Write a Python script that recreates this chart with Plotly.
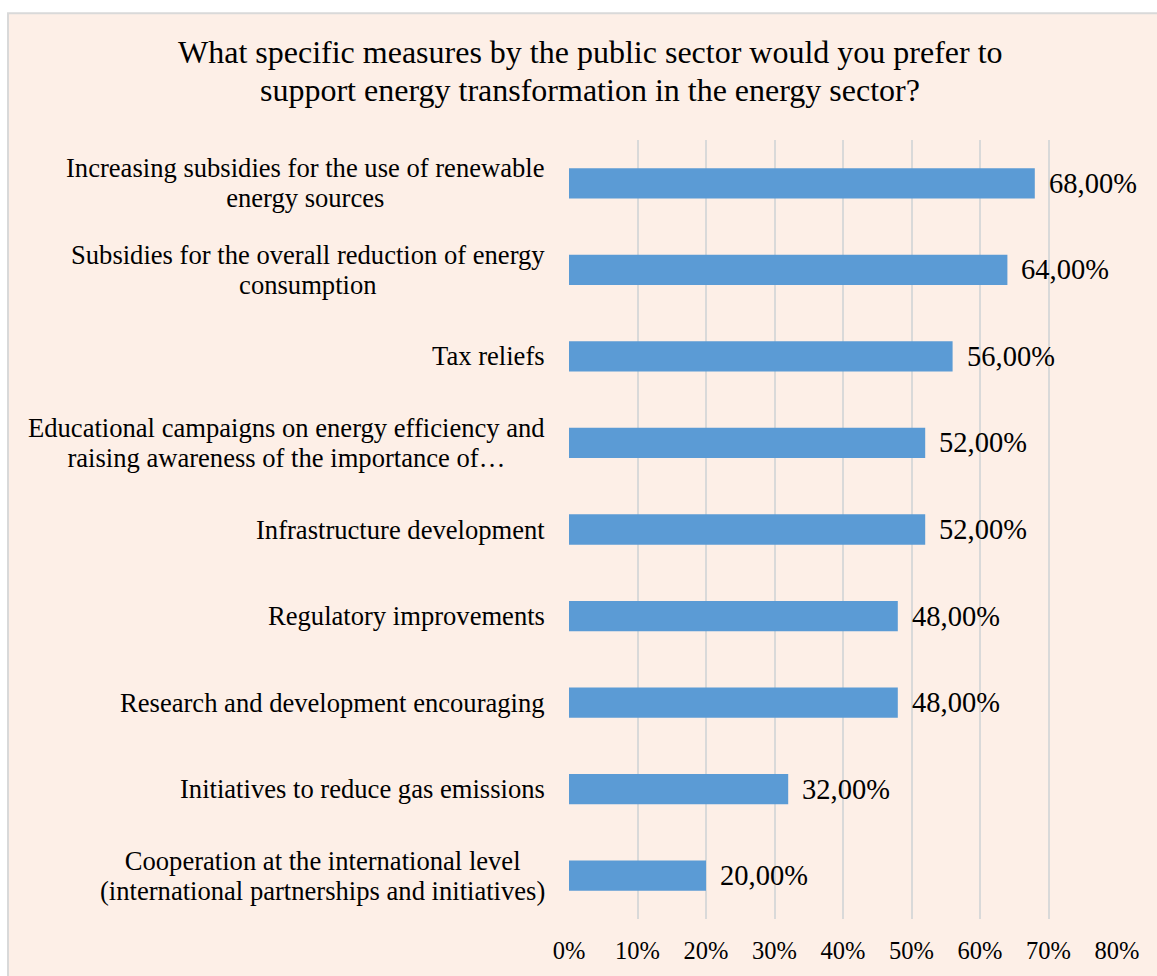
import plotly.graph_objects as go

categories = [
    "Increasing subsidies for the use of renewable<br>energy sources",
    "Subsidies for the overall reduction of energy<br>consumption",
    "Tax reliefs",
    "Educational campaigns on energy efficiency and<br>raising awareness of the importance of…",
    "Infrastructure development",
    "Regulatory improvements",
    "Research and development encouraging",
    "Initiatives to reduce gas emissions",
    "Cooperation at the international level<br>(international partnerships and initiatives)",
]
values = [0.68, 0.64, 0.56, 0.52, 0.52, 0.48, 0.48, 0.32, 0.20]
tick_vals = [0, 0.1, 0.2, 0.3, 0.4, 0.5, 0.6, 0.7, 0.8]
tick_text = ["0%", "10%", "20%", "30%", "40%", "50%", "60%", "70%", "80%"]
title_lines = [
    "What specific measures by the public sector would you prefer to",
    "support energy transformation in the energy sector?",
]

FONT = "Liberation Serif, Times New Roman, serif"
BG = "#FDEFE7"
BAR = "#5B9BD5"
GRID = "#D9D9D9"
BLACK = "#000000"

fig = go.Figure(go.Bar(
    x=values, y=categories, orientation="h",
    marker=dict(color=BAR, line=dict(width=0)),
    width=0.35,
    hoverinfo="skip",
))

# value labels to the right of each bar
for c, v in zip(categories, values):
    fig.add_annotation(
        x=v, y=c, xref="x", yref="y",
        text=f"{v*100:.2f}%".replace(".", ","),
        showarrow=False, xanchor="left", yanchor="middle", xshift=12,
        font=dict(family=FONT, size=28.5, color=BLACK),
    )

# category labels: line pitch follows the annotation font size (23px -> ~30px),
# while the glyphs themselves are drawn at 26.6px
for c in categories:
    styled = "<br>".join(
        f'<span style="font-size:26.6px">{ln}</span>' for ln in c.split("<br>")
    )
    fig.add_annotation(
        x=0, y=c, xref="paper", yref="y", text=styled,
        showarrow=False, xanchor="right", yanchor="middle", align="center",
        xshift=-22,
        font=dict(family=FONT, size=23, color=BLACK),
    )

fig.add_shape(
    type="rect", xref="paper", yref="paper", layer="below",
    x0=-1.0237, x1=1.10, y0=-0.10, y1=1.1626,
    fillcolor=BG, line=dict(color=GRID, width=2),
)

# title as two lines
for ln, py in zip(title_lines, [52, 90]):
    fig.add_annotation(
        x=0.5, y=(921 - py) / 781, xref="paper", yref="paper",
        text=ln, showarrow=False, xanchor="center", yanchor="middle",
        xshift=590 - (569 + 1117) / 2,
        font=dict(family=FONT, size=32, color=BLACK),
    )

fig.update_layout(
    width=1157, height=976,
    margin=dict(l=569, r=40, t=140, b=55),
    paper_bgcolor="#FFFFFF",
    plot_bgcolor="rgba(0,0,0,0)",
    showlegend=False,
    xaxis=dict(
        range=[0, 0.8], tickvals=tick_vals, ticktext=tick_text,
        showgrid=True, gridcolor=GRID, gridwidth=2,
        zeroline=False, showline=False, ticks="",
        ticklabelstandoff=14,
        tickfont=dict(family=FONT, size=24.5, color=BLACK),
        fixedrange=True,
    ),
    yaxis=dict(
        autorange="reversed", showticklabels=False, showgrid=False,
        zeroline=False, showline=False, ticks="", fixedrange=True,
    ),
)

fig.write_html("out.html")
